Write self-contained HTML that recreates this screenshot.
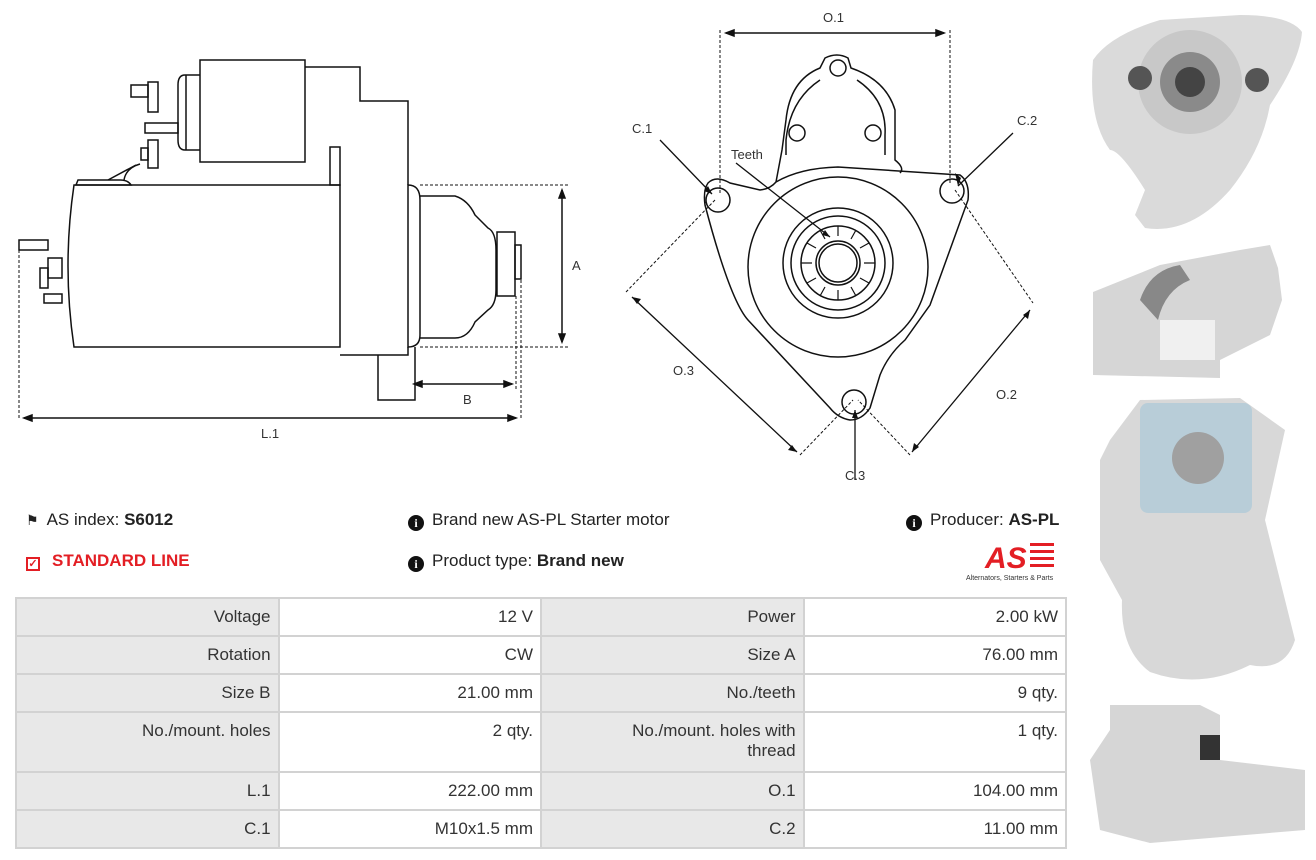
<!DOCTYPE html>
<html><head><meta charset="utf-8"><style>
*{margin:0;padding:0;box-sizing:border-box}
body{width:1316px;height:860px;background:#fff;position:relative;overflow:hidden;font-family:"Liberation Sans",sans-serif;color:#222}
.t{position:absolute;font-size:17px;white-space:nowrap}
b{font-weight:bold}
.ic{display:inline-block;width:16px;height:16px;border-radius:50%;background:#111;color:#fff;font-size:12px;font-weight:bold;text-align:center;line-height:16px;margin-right:8px;vertical-align:-2px;font-family:"Liberation Serif",serif}
table{position:absolute;left:15px;top:597px;width:1052px;border-collapse:collapse;font-size:17px}
td{border:2px solid #d2d2d2;padding:8px 7px;text-align:right;vertical-align:top;width:263px;color:#333}
td.l{background:#e8e8e8}
</style></head><body>
<svg width="1316" height="860" style="position:absolute;left:0;top:0" fill="none" stroke="#111" stroke-width="1.5">
<path d="M74,185 H340 V347 H74 Q62,266 74,185Z"/>
<path d="M305,67 H360 V101 H408 V185 M408,347 V355 H340 M378,355 V400 H415 V347"/>
<path d="M408,185 Q420,185 420,200 V335 Q420,347 408,347 Z"/>
<path d="M420,196 H455 Q468,200 475,215 L488,228 Q496,232 496,250 V290 Q496,305 488,310 L475,322 Q468,338 455,338 H420"/>
<rect x="497" y="232" width="18" height="64"/>
<rect x="515" y="245" width="6" height="34"/>
<path d="M200,60 H305 V162 H200 Z M185,75 H200 V150 H185 Q178,150 178,140 V85 Q178,75 185,75Z M186,75 V150"/>
<rect x="330" y="147" width="10" height="38"/>
<rect x="148" y="82" width="10" height="30"/><rect x="131" y="85" width="17" height="12"/>
<rect x="145" y="123" width="33" height="10"/>
<rect x="148" y="140" width="10" height="28"/><rect x="141" y="148" width="7" height="12"/>
<path d="M108,180 L136,165 M124,180 Q126,168 140,164"/>
<path d="M78,180 H120 Q128,180 131,185 H76Z"/>
<rect x="48" y="258" width="14" height="20"/><rect x="40" y="268" width="8" height="20"/>
<rect x="19" y="240" width="29" height="10"/><rect x="44" y="294" width="18" height="9"/>
<g stroke-dasharray="3,2" stroke-width="1">
<path d="M19,250 V420 M521,280 V420 M516,296 V390 M420,185 H570 M420,347 H570"/>
<path d="M720,30 V195 M950,30 V185"/>
<path d="M626,292 L715,200 M955,190 L1033,303 M800,455 L853,400 M910,455 L858,400"/>
</g>
<path d="M24,418 H516 M414,384 H512 M562,190 V342 M726,33 H944"/>
<path d="M24,418 l8,-3 v6z M516,418 l-8,-3 v6z M414,384 l8,-3 v6z M512,384 l-8,-3 v6z M562,190 l-3,8 h6z M562,342 l-3,-8 h6z M726,33 l8,-3 v6z M944,33 l-8,-3 v6z" fill="#111"/>
<path d="M708,183 Q716,175 730,183 L760,190 Q770,189 776,182 Q800,168 838,167 L960,175 Q970,182 968,200 L930,305 L905,340 Q888,355 880,375 L870,408 Q862,420 850,420 Q838,418 830,408 L748,320 Q730,300 705,205 Q703,190 708,183Z"/>
<path d="M776,182 L782,150 L786,120 Q790,80 820,68 L825,58 Q837,52 848,58 L851,68 Q886,80 895,110 L895,160 Q905,168 900,173"/>
<path d="M786,155 V140 Q790,100 820,80 M857,80 Q887,100 885,135 V155" />
<circle cx="838" cy="68" r="8"/><circle cx="797" cy="133" r="8"/><circle cx="873" cy="133" r="8"/>
<circle cx="838" cy="267" r="90"/><circle cx="838" cy="263" r="55"/><circle cx="838" cy="263" r="47"/>
<circle cx="838" cy="263" r="37"/><circle cx="838" cy="263" r="22"/><circle cx="838" cy="263" r="19"/>
<circle cx="718" cy="200" r="12"/><circle cx="952" cy="191" r="12"/><circle cx="854" cy="402" r="12"/>
<g stroke-width="1.3">
<path d="M660,140 L712,194 M1013,133 L958,186 M736,163 L830,237 M855,480 V410"/>
<path d="M632,297 L797,452 M1030,310 L912,452"/>
</g>
<g fill="#111" stroke="none">
<path d="M712,194 l-8,-3 4,-5z M958,186 l3,-8 -6,-5z M830,237 l-8,-2 3,-5z M855,410 l-3,8 h6z M632,297 l9,2 -4,5z M797,452 l-9,-2 4,-5z M1030,310 l-2,9 -5,-4z M912,452 l2,-9 5,4z"/>
</g>
<g stroke-width="1.2">
<path d="M838,226 V236 M856,230 L851,239 M869,243 L860,248 M875,263 H864 M869,283 L860,278 M856,296 L851,287 M838,300 V290 M820,296 L825,287 M807,283 L816,278 M801,263 H812 M807,243 L816,248 M820,230 L825,239"/>
</g>
<g stroke="none">
<path d="M1093,60 Q1110,35 1160,20 L1240,15 Q1290,15 1302,32 Q1300,60 1270,105 Q1262,150 1230,190 Q1190,235 1145,228 L1135,215 L1145,190 Q1120,150 1110,150 Q1088,120 1093,60Z" fill="#dadada"/>
<circle cx="1190" cy="82" r="52" fill="#c8c8c8"/><circle cx="1190" cy="82" r="30" fill="#8a8a8a"/><circle cx="1190" cy="82" r="15" fill="#444"/>
<circle cx="1140" cy="78" r="12" fill="#555"/><circle cx="1257" cy="80" r="12" fill="#555"/>
<path d="M1093,292 L1160,265 L1240,250 L1270,245 L1278,268 L1282,300 L1270,335 L1220,360 L1220,378 L1093,375Z" fill="#d6d6d6"/>
<rect x="1160" y="320" width="55" height="40" fill="#f0f0f0"/><path d="M1140,300 Q1150,270 1180,265 L1190,280 Q1165,290 1158,320Z" fill="#888"/>
<path d="M1110,440 L1140,400 L1240,398 L1285,430 L1265,520 L1295,640 Q1285,672 1250,665 Q1200,690 1150,672 Q1120,650 1122,600 L1100,560 L1100,460Z" fill="#d8d8d8"/>
<rect x="1140" y="403" width="112" height="110" rx="8" fill="#b8cdd8"/><circle cx="1198" cy="458" r="26" fill="#a0a0a0"/>
<path d="M1090,760 L1110,730 L1110,705 L1200,705 L1220,715 L1220,760 L1305,770 L1305,830 L1150,843 L1100,830Z" fill="#d6d6d6"/>
<rect x="1200" y="735" width="20" height="25" fill="#333"/>
</g>
<text x="985" y="568" font-family="Liberation Sans" font-size="30" font-weight="bold" font-style="italic" fill="#e31e24" stroke="none">AS</text>
<g fill="#e31e24" stroke="none"><rect x="1030" y="543" width="24" height="3"/><rect x="1030" y="550" width="24" height="3"/><rect x="1030" y="557" width="24" height="3"/><rect x="1030" y="564" width="24" height="3"/></g>
<text x="966" y="580" font-family="Liberation Sans" font-size="7" fill="#333" stroke="none">Alternators, Starters &amp; Parts</text>
<g font-family="Liberation Sans" font-size="13" fill="#333" stroke="none">
<text x="572" y="270">A</text><text x="463" y="404">B</text><text x="261" y="438">L.1</text>
<text x="823" y="22">O.1</text><text x="632" y="133">C.1</text><text x="1017" y="125">C.2</text>
<text x="731" y="159">Teeth</text><text x="673" y="375">O.3</text><text x="996" y="399">O.2</text><text x="845" y="480">C.3</text>
</g>
</svg>
<div class="t" style="left:26px;top:510px"><span style="font-size:14px;margin-right:8px">&#9873;</span>AS index: <b>S6012</b></div>
<div class="t" style="left:26px;top:551px;color:#e31e24;font-weight:bold"><span style="display:inline-block;width:14px;height:14px;border:2px solid #e31e24;margin-right:12px;vertical-align:-1px;font-size:11px;line-height:10px;text-align:center">✓</span>STANDARD LINE</div>
<div class="t" style="left:408px;top:510px"><span class="ic">i</span>Brand new AS-PL Starter motor</div>
<div class="t" style="left:408px;top:551px"><span class="ic">i</span>Product type: <b>Brand new</b></div>
<div class="t" style="left:906px;top:510px"><span class="ic">i</span>Producer: <b>AS-PL</b></div>
<table>
<tr style="height:38px"><td class="l">Voltage</td><td>12 V</td><td class="l">Power</td><td>2.00 kW</td></tr>
<tr style="height:38px"><td class="l">Rotation</td><td>CW</td><td class="l">Size A</td><td>76.00 mm</td></tr>
<tr style="height:38px"><td class="l">Size B</td><td>21.00 mm</td><td class="l">No./teeth</td><td>9 qty.</td></tr>
<tr style="height:60px"><td class="l">No./mount. holes</td><td>2 qty.</td><td class="l">No./mount. holes with<br>thread</td><td>1 qty.</td></tr>
<tr style="height:38px"><td class="l">L.1</td><td>222.00 mm</td><td class="l">O.1</td><td>104.00 mm</td></tr>
<tr style="height:38px"><td class="l">C.1</td><td>M10x1.5 mm</td><td class="l">C.2</td><td>11.00 mm</td></tr>
</table>
</body></html>
